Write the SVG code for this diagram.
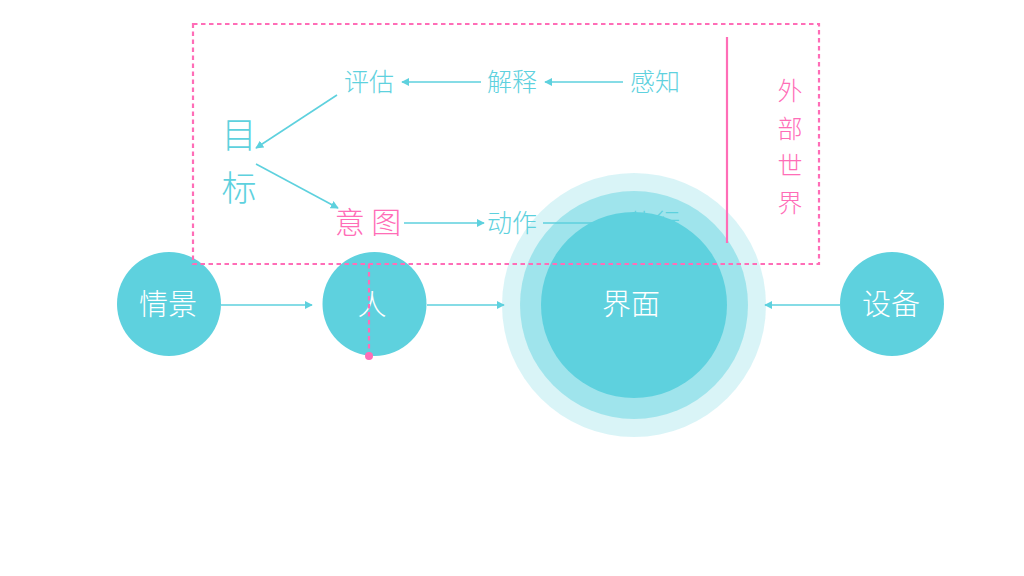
<svg xmlns="http://www.w3.org/2000/svg" width="1024" height="576" viewBox="0 0 1024 576">
<defs>
<style>
.t{font-family:"Noto Sans CJK SC","Noto Sans CJK JP",sans-serif;font-weight:300;}
.c{fill:#5ed1de;}
.pk{fill:#ff6db7;}
.w{fill:#ffffff;}
.ln{stroke:#5ed1de;stroke-width:1.6;fill:none;}
.dash{stroke:#ff6db7;stroke-width:2.2;stroke-dasharray:4.5 3.5;fill:none;}
.node{fill:#5ed1de;}
</style>
<marker id="ah" viewBox="0 0 10 10" refX="9" refY="5" markerWidth="8" markerHeight="8" orient="auto" markerUnits="userSpaceOnUse">
<path d="M0,0 L10,5 L0,10 z" fill="#5ed1de"/>
</marker>
</defs>
<rect width="1024" height="576" fill="#ffffff"/>

<g id="inner-labels" class="t">
<text id="t-pinggu" class="c" x="369" y="91" font-size="25" text-anchor="middle">评估</text>
<text id="t-jieshi" class="c" x="512" y="91" font-size="25" text-anchor="middle">解释</text>
<text id="t-ganzhi" class="c" x="655" y="91" font-size="25" text-anchor="middle">感知</text>
<text id="t-mu" class="c" x="239" y="148" font-size="35" text-anchor="middle">目</text>
<text id="t-biao" class="c" x="239" y="201" font-size="35" text-anchor="middle">标</text>
<text id="t-yitu" class="pk" x="368" y="233" font-size="30" text-anchor="middle">意 图</text>
<text id="t-dongzuo" class="c" x="512" y="232" font-size="25" text-anchor="middle">动作</text>
<text id="t-zhixing" class="c" x="655" y="232" font-size="25" text-anchor="middle">执行</text>
<text id="t-waibu" class="pk" font-size="25" text-anchor="middle"><tspan x="790" y="100">外</tspan><tspan x="790" y="138">部</tspan><tspan x="790" y="175">世</tspan><tspan x="790" y="212">界</tspan></text>
</g>

<g id="connectors">
<line class="ln" x1="623" y1="82" x2="545" y2="82" marker-end="url(#ah)"/>
<line class="ln" x1="481" y1="82" x2="402" y2="82" marker-end="url(#ah)"/>
<line class="ln" x1="337" y1="95" x2="256" y2="148" marker-end="url(#ah)"/>
<line class="ln" x1="256" y1="164" x2="338" y2="208" marker-end="url(#ah)"/>
<line class="ln" x1="404" y1="223" x2="484" y2="223" marker-end="url(#ah)"/>
<line class="ln" x1="543" y1="223" x2="624" y2="223"/>
<line class="ln" x1="221" y1="305" x2="312" y2="305" marker-end="url(#ah)"/>
<line class="ln" x1="427" y1="305" x2="504" y2="305" marker-end="url(#ah)"/>
<line class="ln" x1="840" y1="305" x2="765" y2="305" marker-end="url(#ah)"/>
</g>

<g id="node-jiemian">
<circle cx="634" cy="305" r="132" fill="#5ed1de" fill-opacity="0.235"/>
<circle cx="634" cy="305" r="114" fill="#5ed1de" fill-opacity="0.464"/>
<circle cx="634" cy="305" r="93" fill="#5ed1de"/>
<text class="t w" x="631" y="315" font-size="29" text-anchor="middle">界面</text>
</g>
<g id="node-qingjing">
<circle class="node" cx="169" cy="304" r="52"/>
<text class="t w" x="168" y="315" font-size="29" text-anchor="middle">情景</text>
</g>
<g id="node-ren">
<circle class="node" cx="374.5" cy="304" r="52"/>
<text class="t w" x="372" y="315" font-size="29" text-anchor="middle">人</text>
</g>
<g id="node-shebei">
<circle class="node" cx="892" cy="304" r="52"/>
<text class="t w" x="891" y="315" font-size="29" text-anchor="middle">设备</text>
</g>

<g id="boundary">
<rect class="dash" x="193" y="24" width="626" height="240"/>
<line class="dash" x1="369" y1="264" x2="369" y2="354"/>
<circle cx="369" cy="356" r="4" fill="#ff6db7"/>
<line x1="727" y1="37" x2="727" y2="243" stroke="#ff6db7" stroke-width="2.2"/>
</g>
</svg>
